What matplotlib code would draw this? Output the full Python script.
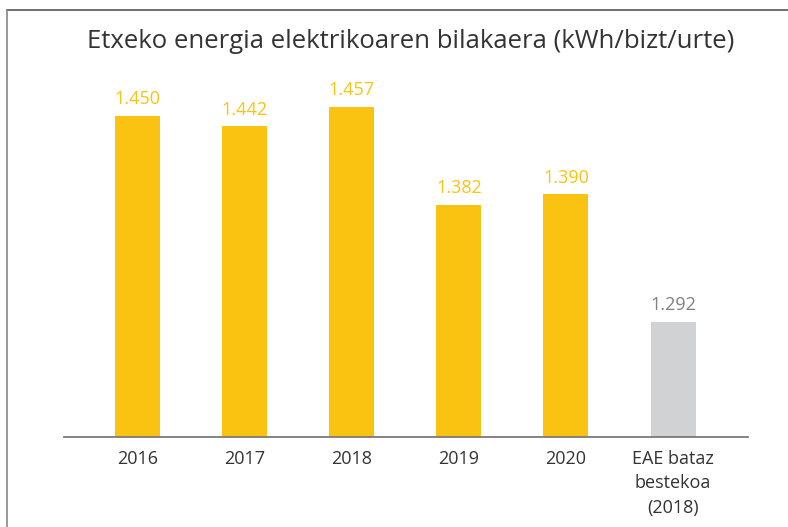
import matplotlib.pyplot as plt
from matplotlib.lines import Line2D
import numpy as np

# data
categories = ["2016", "2017", "2018", "2019", "2020", "EAE bataz\nbestekoa\n(2018)"]
values = [1.450, 1.442, 1.457, 1.382, 1.390, 1.292]
labels = ["1.450", "1.442", "1.457", "1.382", "1.390", "1.292"]
is_avg = [False, False, False, False, False, True]

YELLOW = "#FAC312"
GREY_BAR = "#D1D2D4"
TEXT = "#333333"

plt.rcParams["font.family"] = ["Open Sans", "DejaVu Sans"]

W, H = 788, 527
fig = plt.figure(figsize=(W / 100, H / 100), dpi=100)

# axes placed in pixel coords: x 64..748, y 60..437 (from top)
ax = fig.add_axes([64 / W, (H - 437) / H, (748 - 64) / W, (437 - 60) / H])

x = np.arange(len(categories))
colors = [GREY_BAR if a else YELLOW for a in is_avg]
ymin = 1.2037
ax.bar(x, np.array(values) - ymin, bottom=ymin, width=0.42, color=colors, zorder=2)

ax.set_xlim(-0.687, 5.70)
ax.set_ylim(ymin, ymin + 377 / 1303)

for xi, v, lab, a in zip(x, values, labels, is_avg):
    ax.annotate(lab, (xi, v), xytext=(0, 5.5), textcoords="offset points",
                ha="center", va="bottom", fontsize=13,
                color="#808080" if a else YELLOW)

for s in ["top", "right", "left"]:
    ax.spines[s].set_visible(False)
ax.spines["bottom"].set_color("#7a7a7a")
ax.spines["bottom"].set_linewidth(1.3)
ax.spines["bottom"].set_zorder(3)
ax.set_yticks([])
ax.set_xticks(x)
ax.set_xticklabels(categories, fontsize=13, color=TEXT, linespacing=1.5)
ax.tick_params(axis="x", length=0, pad=9)

fig.text(411 / W, 1 - 42 / H, "Etxeko energia elektrikoaren bilakaera (kWh/bizt/urte)",
         ha="center", va="center", fontsize=18.5, color=TEXT)

# frame lines (top and left only)
fig.add_artist(Line2D([7 / W, 1.0], [1 - 10 / H, 1 - 10 / H], color="#555555", lw=1.2))
fig.add_artist(Line2D([7 / W, 7 / W], [0, 1 - 10 / H], color="#888888", lw=1.2))

fig.savefig("out.png", dpi=100)
